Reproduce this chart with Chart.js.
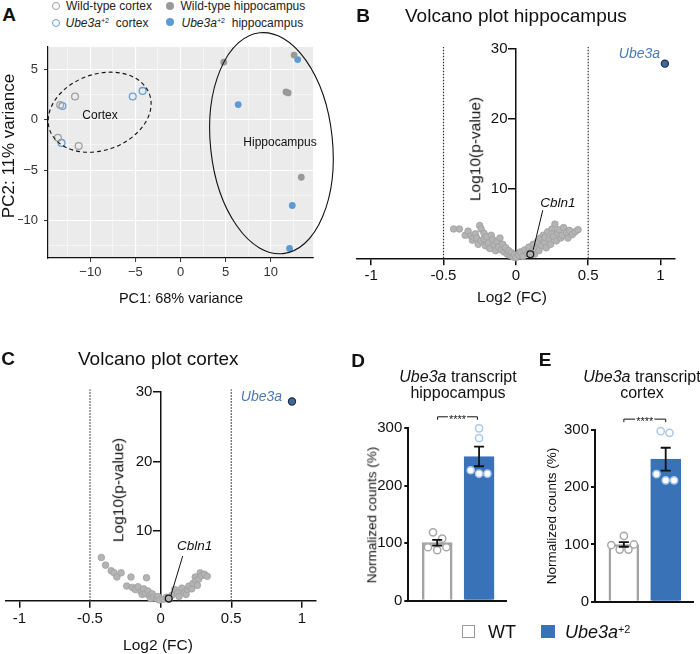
<!DOCTYPE html>
<html>
<head>
<meta charset="utf-8">
<script src="https://cdn.jsdelivr.net/npm/chart.js@4.4.1/dist/chart.umd.min.js"></script>
<style>
  body { margin: 0; background: #fff; font-family: 'Liberation Sans', Arial, sans-serif; color: #111; }
  #fig { position: relative; width: 700px; height: 654px; overflow: hidden; }
  canvas { position: absolute; }
  .t { position: absolute; white-space: nowrap; line-height: 1; }
  .c { transform: translate(-50%, -50%); }
  .r { transform: translate(-50%, -50%) rotate(-90deg); }
  .l { transform: translateY(-50%); }
  .pl { font-weight: bold; font-size: 19px; }
  .sp { font-size: 0.6em; position: relative; top: -0.5em; font-style: normal; }
  .mk { position: absolute; width: 8px; height: 8px; border-radius: 50%; box-sizing: border-box; }
</style>
</head>
<body>
<div id="fig">
  <canvas id="pca" width="340" height="290" style="left:0;top:30px"></canvas>
  <canvas id="volHip" width="360" height="320" style="left:340px;top:0"></canvas>
  <canvas id="volCtx" width="340" height="334" style="left:0;top:320px"></canvas>
  <canvas id="barHip" width="180" height="300" style="left:340px;top:320px"></canvas>
  <canvas id="barCtx" width="180" height="300" style="left:520px;top:320px"></canvas>

  <!-- panel A -->
  <div class="t pl c" style="left:9px;top:14px">A</div>
  <span class="mk" style="left:52px;top:2px;border:1.3px solid #a0a0a0"></span>
  <span class="mk" style="left:52px;top:19px;border:1.3px solid #6a9fd4"></span>
  <span class="mk" style="left:166px;top:1.5px;background:#999"></span>
  <span class="mk" style="left:166px;top:18px;background:#5b9bd5"></span>
  <div class="t l" style="left:66px;top:6px;font-size:12px;color:#222">Wild-type cortex</div>
  <div class="t l" style="left:65.5px;top:23px;font-size:12px;color:#222"><i>Ube3a</i><span class="sp">+2</span>&nbsp; cortex</div>
  <div class="t l" style="left:180.5px;top:6px;font-size:12px;color:#222">Wild-type hippocampus</div>
  <div class="t l" style="left:181.5px;top:23px;font-size:12px;color:#222"><i>Ube3a</i><span class="sp">+2</span>&nbsp; hippocampus</div>
  <div class="t c" style="left:100px;top:115px;font-size:12px">Cortex</div>
  <div class="t c" style="left:280px;top:142px;font-size:12px">Hippocampus</div>
  <div class="t c" style="left:181px;top:298px;font-size:14.5px">PC1: 68% variance</div>
  <div class="t r" style="left:8px;top:146px;font-size:17px">PC2: 11% variance</div>

  <!-- panel B -->
  <div class="t pl c" style="left:363px;top:15px">B</div>
  <div class="t l" style="left:405px;top:15px;font-size:19px">Volcano plot hippocampus</div>
  <div class="t r" style="left:475px;top:149px;font-size:15.5px">Log10(p-value)</div>
  <div class="t c" style="left:512px;top:297px;font-size:15.5px">Log2 (FC)</div>

  <!-- panel C -->
  <div class="t pl c" style="left:8px;top:358px">C</div>
  <div class="t l" style="left:78px;top:358px;font-size:19px">Volcano plot cortex</div>
  <div class="t r" style="left:118px;top:490px;font-size:15.5px">Log10(p-value)</div>
  <div class="t c" style="left:158px;top:645px;font-size:15.5px">Log2 (FC)</div>

  <!-- panel D -->
  <div class="t pl c" style="left:358px;top:360px">D</div>
  <div class="t c" style="left:458px;top:377px;font-size:16px"><i>Ube3a</i> transcript</div>
  <div class="t c" style="left:458px;top:393px;font-size:16px">hippocampus</div>
  <div class="t r" style="left:372px;top:515px;font-size:13.5px">Normalized counts (%)</div>

  <!-- panel E -->
  <div class="t pl c" style="left:545px;top:359px">E</div>
  <div class="t c" style="left:642px;top:377px;font-size:16px"><i>Ube3a</i> transcript</div>
  <div class="t c" style="left:642px;top:393px;font-size:16px">cortex</div>
  <div class="t r" style="left:552px;top:516px;font-size:13.5px">Normalized counts (%)</div>

  <!-- legend D/E -->
  <span style="position:absolute;left:462px;top:625px;width:13px;height:13px;box-sizing:border-box;border:1.5px solid #999"></span>
  <div class="t l" style="left:488px;top:632px;font-size:18px">WT</div>
  <span style="position:absolute;left:541px;top:625px;width:14px;height:13px;background:#3a72b8"></span>
  <div class="t l" style="left:565px;top:632px;font-size:18px"><i>Ube3a</i><span class="sp">+2</span></div>
</div>

<script>
// PCA coordinates
const wtCtxPC1 = [-11.7, -13.6, -11.3, -13.35];
const wtCtxPC2 = [2.3, -1.8, -2.6, 1.45];
const ubCtxPC1 = [-13.1, -13.2, -5.3, -4.2];
const ubCtxPC2 = [1.35, -2.3, 2.3, 2.85];
const wtHipPC1 = [4.8, 12.6, 11.7, 11.95, 13.4];
const wtHipPC2 = [5.7, 6.4, 2.75, 2.65, -5.7];
const ubHipPC1 = [13.0, 6.4, 12.4, 12.1];
const ubHipPC2 = [5.95, 1.5, -8.5, -12.75];

// volcano hippocampus
const hipFC = [-0.43, -0.39, -0.35, -0.33, -0.31, -0.30, -0.29, -0.28, -0.27, -0.26, -0.25, -0.24, -0.24, -0.22, -0.22, -0.21,
  -0.20, -0.19, -0.18, -0.17, -0.16, -0.15, -0.14, -0.13, -0.12, -0.11, -0.10, -0.09, -0.08, -0.07, -0.06, -0.05,
  -0.04, -0.03, -0.02, -0.01, 0.00, 0.02, 0.03, 0.05, 0.06, 0.08, 0.09, 0.11, 0.12, 0.13, 0.14, 0.15, 0.16, 0.17,
  0.18, 0.19, 0.20, 0.20, 0.21, 0.22, 0.23, 0.24, 0.25, 0.25, 0.26, 0.27, 0.28, 0.29, 0.30, 0.31, 0.32, 0.33,
  0.35, 0.36, 0.37, 0.39, 0.41, 0.43];
const hipLogP = [4.2, 4.2, 3.3, 3.9, 3.2, 2.6, 3.0, 3.5, 2.9, 2.0, 4.7, 4.2, 2.5, 3.6, 2.8, 1.8,
  3.1, 2.2, 1.4, 3.3, 2.7, 1.9, 1.1, 2.4, 1.6, 2.9, 1.2, 2.0, 0.9, 1.5, 0.6, 1.1,
  0.4, 0.8, 0.2, 0.5, 0.1, 0.4, 0.9, 0.3, 1.2, 0.7, 1.6, 1.0, 2.0, 0.6, 1.4, 2.4, 1.1, 2.9,
  1.8, 3.3, 2.3, 3.0, 1.5, 3.8, 2.7, 2.0, 4.2, 3.5, 3.1, 4.9, 2.5, 3.6, 4.1, 2.9, 3.3, 4.4,
  3.7, 2.9, 4.0, 3.4, 3.8, 4.1];

// volcano cortex
const ctxFC = [-0.42, -0.39, -0.35, -0.33, -0.31, -0.28, -0.24, -0.21, -0.20, -0.18, -0.16, -0.14, -0.13, -0.12,
  -0.11, -0.10, -0.09, -0.08, -0.07, -0.06, -0.05, -0.03, -0.02, -0.01, 0.02, 0.04, 0.06, 0.08, 0.10, 0.12,
  0.13, 0.15, 0.17, 0.18, 0.19, 0.20, 0.22, 0.23, 0.245, 0.25, 0.26, 0.27, 0.28, 0.29, 0.31, 0.33];
const ctxLogP = [6.2, 5.1, 4.3, 4.0, 3.4, 4.0, 2.1, 3.4, 1.9, 1.6, 2.0, 1.3, 0.9, 1.7,
  1.0, 3.3, 1.4, 0.7, 0.3, 1.0, 0.5, 0.3, 0.6, 0.1, 0.2, 0.5, 0.2, 0.8, 1.6, 1.1,
  0.6, 1.8, 1.2, 0.9, 1.6, 2.1, 1.7, 2.5, 3.4, 2.9, 2.2, 3.1, 4.0, 3.6, 3.8, 3.5];

const hipUbe3a = [1.03, 27.9];
const hipCbln1 = [0.10, 0.57];
const ctxUbe3a = [0.93, 28.6];
const ctxCbln1 = [0.057, 0.3];

// bar panels
const groups = ['WT', 'Ube3a+2'];
const hipMean = [101, 251];
const hipSem = [5, 17];
const hipWT = [119, 108, 93, 88, 93];
const hipUb = [300, 283, 227, 221, 221];
const ctxMean = [100, 249];
const ctxSem = [4, 20];
const ctxWT = [115, 99, 100, 91, 91];
const ctxUb = [298, 295, 223, 212, 212];
// horizontal scatter of the dots inside each bar
const hipWTJit = [-0.1, 0.12, -0.22, 0, 0.22];
const hipUbJit = [0, 0, -0.2, 0, 0.2];
const ctxWTJit = [0, -0.3, 0.24, -0.1, 0.11];
const ctxUbJit = [-0.12, 0.09, -0.22, 0, 0.2];

Chart.defaults.font.family = "'Liberation Sans', Arial, sans-serif";
Chart.defaults.color = '#111';

const pts = (xs, ys) => xs.map((v, i) => ({x: v, y: ys[i]}));

const panelBg = {
  id: 'panelBg',
  beforeDraw(chart, args, opts) {
    if (!opts.color) return;
    const {ctx, chartArea: a} = chart;
    ctx.save();
    ctx.fillStyle = opts.color;
    ctx.fillRect(a.left, a.top, a.right - a.left, a.bottom - a.top);
    ctx.restore();
  }
};

const ellipses = {
  id: 'ellipses',
  afterDatasetsDraw(chart, args, opts) {
    const {ctx, scales: {x, y}} = chart;
    (opts.items || []).forEach(e => {
      ctx.save();
      ctx.strokeStyle = '#111';
      ctx.lineWidth = 1.1;
      ctx.setLineDash(e.dash || []);
      ctx.beginPath();
      ctx.ellipse(x.getPixelForValue(e.cx), y.getPixelForValue(e.cy), e.rx, e.ry, e.rot * Math.PI / 180, 0, Math.PI * 2);
      ctx.stroke();
      ctx.restore();
    });
  }
};

const labels = {
  id: 'labels',
  afterDatasetsDraw(chart, args, opts) {
    const {ctx, scales: {x, y}} = chart;
    ctx.save();
    (opts.leaders || []).forEach(l => {
      ctx.strokeStyle = '#111';
      ctx.lineWidth = 1;
      ctx.beginPath();
      ctx.moveTo(x.getPixelForValue(l[0]), y.getPixelForValue(l[1]));
      ctx.lineTo(x.getPixelForValue(l[2]), y.getPixelForValue(l[3]));
      ctx.stroke();
    });
    (opts.items || []).forEach(t => {
      ctx.font = t.font;
      ctx.fillStyle = t.color;
      ctx.textAlign = t.align;
      ctx.textBaseline = 'middle';
      ctx.fillText(t.text, x.getPixelForValue(t.x), y.getPixelForValue(t.y));
    });
    ctx.restore();
  }
};

const errorBars = {
  id: 'errorBars',
  afterDatasetsDraw(chart, args, opts) {
    if (!opts.mean) return;
    const {ctx, scales: {x, y}} = chart;
    ctx.save();
    ctx.strokeStyle = '#111';
    ctx.lineWidth = 1.8;
    opts.mean.forEach((m, i) => {
      const px = x.getPixelForValue(i);
      const t = y.getPixelForValue(m + opts.sem[i]);
      const b = y.getPixelForValue(m - opts.sem[i]);
      ctx.beginPath();
      ctx.moveTo(px, t); ctx.lineTo(px, b);
      ctx.moveTo(px - 5, t); ctx.lineTo(px + 5, t);
      ctx.moveTo(px - 5, b); ctx.lineTo(px + 5, b);
      ctx.stroke();
    });
    // significance bracket
    const yb = y.getPixelForValue(opts.star.y);
    const x1 = x.getPixelForValue(opts.star.from);
    const x2 = x.getPixelForValue(opts.star.to);
    ctx.font = '11px "Liberation Sans", Arial, sans-serif';
    const w = ctx.measureText('****').width;
    const xm = (x1 + x2) / 2;
    ctx.lineWidth = 1;
    ctx.beginPath();
    ctx.moveTo(x1, yb + 3); ctx.lineTo(x1, yb); ctx.lineTo(xm - w / 2 - 1, yb);
    ctx.moveTo(xm + w / 2 + 1, yb); ctx.lineTo(x2, yb); ctx.lineTo(x2, yb + 3);
    ctx.stroke();
    ctx.fillStyle = '#111';
    ctx.textAlign = 'center';
    ctx.textBaseline = 'middle';
    ctx.fillText('****', xm, yb + 3);
    ctx.restore();
  }
};

// ---------- A: PCA ----------
const pcaTick = v => (Math.abs(v % 5) < 1e-6 ? String(v).replace('-', '\u2212') : '');
const majorW = c => (Math.abs(c.tick.value % 5) < 1e-6 ? 1.1 : 0.5);
const majorTick = c => (Math.abs(c.tick.value % 5) < 1e-6 ? '#333' : 'rgba(0,0,0,0)');

new Chart(document.getElementById('pca'), {
  type: 'scatter',
  data: {
    datasets: [
      {label: 'Wild-type cortex', data: pts(wtCtxPC1, wtCtxPC2), pointRadius: 3.4, borderWidth: 1.3,
        backgroundColor: 'rgba(0,0,0,0)', borderColor: '#a0a0a0'},
      {label: 'Ube3a+2 cortex', data: pts(ubCtxPC1, ubCtxPC2), pointRadius: 3.4, borderWidth: 1.3,
        backgroundColor: 'rgba(0,0,0,0)', borderColor: '#6a9fd4'},
      {label: 'Wild-type hippocampus', data: pts(wtHipPC1, wtHipPC2), pointRadius: 3.4, borderWidth: 0,
        backgroundColor: '#999'},
      {label: 'Ube3a+2 hippocampus', data: pts(ubHipPC1, ubHipPC2), pointRadius: 3.4, borderWidth: 0,
        backgroundColor: '#5b9bd5'}
    ]
  },
  options: {
    responsive: false, animation: false, events: [],
    layout: {padding: {left: 18, right: 27, top: 17, bottom: 34}},
    plugins: {
      legend: {display: false}, tooltip: {enabled: false},
      panelBg: {color: '#ebebeb'},
      ellipses: {items: [
        {cx: -8.97, cy: 0.74, rx: 53, ry: 38, rot: -20, dash: [4, 3]},
        {cx: 10.09, cy: -2.33, rx: 61, ry: 111, rot: -6}
      ]}
    },
    scales: {
      x: {type: 'linear', min: -14.7, max: 14.7,
        ticks: {stepSize: 2.5, includeBounds: false, autoSkip: false, maxRotation: 0, callback: pcaTick,
          font: {size: 13}, color: '#333', padding: 3},
        grid: {color: '#fff', lineWidth: majorW, tickColor: majorTick, tickWidth: 1, tickLength: 4},
        border: {color: '#111', width: 1.2},
        afterFit(s) { s.height = 28; }},
      y: {type: 'linear', min: -13.7, max: 7.2,
        ticks: {stepSize: 2.5, includeBounds: false, autoSkip: false, callback: pcaTick,
          font: {size: 13}, color: '#333', padding: 6},
        grid: {color: '#fff', lineWidth: majorW, tickColor: majorTick, tickWidth: 1, tickLength: 4},
        border: {color: '#111', width: 1.2},
        afterFit(s) { s.width = 30; }}
    }
  },
  plugins: [panelBg, ellipses]
});

// ---------- B / C: volcano plots ----------
function volcano(id, fc, logp, hit, ref, pad, items, leader) {
  const dotted = xv => ({type: 'line', data: [{x: xv, y: 0}, {x: xv, y: 30.3}], borderColor: '#333',
    borderWidth: 1.2, borderDash: [1.5, 1.5], pointRadius: 0, clip: false, order: 3});
  new Chart(document.getElementById(id), {
    type: 'scatter',
    data: {
      datasets: [
        dotted(-0.5), dotted(0.5),
        {data: pts(fc, logp), pointRadius: 3.3, backgroundColor: '#b4b4b4', borderColor: '#9e9e9e',
          borderWidth: 0.8, clip: false, order: 2},
        {data: [{x: ref[0], y: ref[1]}], pointRadius: 3.4, backgroundColor: '#b4b4b4', borderColor: '#1a1a1a',
          borderWidth: 1.3, clip: false, order: 1},
        {data: [{x: hit[0], y: hit[1]}], pointRadius: 3.6, backgroundColor: '#44669a', borderColor: '#1d2f4a',
          borderWidth: 1.2, clip: false, order: 1}
      ]
    },
    options: {
      responsive: false, animation: false, events: [],
      layout: {padding: pad},
      plugins: {
        legend: {display: false}, tooltip: {enabled: false},
        labels: {items: items, leaders: [leader]}
      },
      scales: {
        x: {type: 'linear', min: -1.1, max: 1.1,
          ticks: {stepSize: 0.5, includeBounds: false, font: {size: 15}, color: '#111', padding: 2, maxRotation: 0,
            callback: v => String(Math.round(v * 10) / 10)},
          grid: {drawOnChartArea: false, color: '#111', lineWidth: 1.5, tickLength: 7},
          border: {color: '#111', width: 1.5},
          afterFit(s) { s.height = 30; }},
        y: {type: 'linear', position: {x: 0}, min: 0, max: 30,
          // labels of an axis placed at x = 0 sit right against the line, so pad them out
          ticks: {stepSize: 10, font: {size: 15}, color: '#111', callback: v => (v === 0 ? '' : v + '  ')},
          grid: {drawOnChartArea: false, color: '#111', lineWidth: 1.5, tickLength: 7},
          border: {color: '#111', width: 1.5}}
      }
    },
    plugins: [labels]
  });
}

const geneFont = 'italic 14px "Liberation Sans", Arial, sans-serif';
const refFont = 'italic 13.5px "Liberation Sans", Arial, sans-serif';

volcano('volHip', hipFC, hipLogP, hipUbe3a, hipCbln1,
  {left: 16.7, right: 25, top: 49, bottom: 31.7},
  [{text: 'Ube3a', x: 0.997, y: 29.3, align: 'right', font: geneFont, color: '#4b79b2'},
   {text: 'Cbln1', x: 0.29, y: 7.9, align: 'center', font: refFont, color: '#111'}],
  [0.186, 6.9, 0.12, 1.2]);

volcano('volCtx', ctxFC, ctxLogP, ctxUbe3a, ctxCbln1,
  {left: 0, right: 24, top: 71.7, bottom: 23.3},
  [{text: 'Ube3a', x: 0.86, y: 29.2, align: 'right', font: geneFont, color: '#4b79b2'},
   {text: 'Cbln1', x: 0.24, y: 7.75, align: 'center', font: refFont, color: '#111'}],
  [0.156, 6.4, 0.073, 0.8]);

// ---------- D / E: bar charts ----------
function barPanel(id, mean, sem, wt, wtJit, ub, ubJit, pad, star) {
  new Chart(document.getElementById(id), {
    type: 'bar',
    data: {
      datasets: [
        {type: 'bar', label: 'mean', data: groups.map((g, i) => ({x: i, y: mean[i]})),
          backgroundColor: ['#ffffff', '#3a72b8'], borderColor: ['#a3a3a3', '#3a72b8'],
          borderWidth: 2.5, barThickness: 30, order: 3},
        {type: 'scatter', label: groups[0], data: pts(wtJit, wt), pointRadius: 3.6, backgroundColor: '#fff',
          borderColor: '#a8a8a8', borderWidth: 1.5, clip: false, order: 2},
        {type: 'scatter', label: groups[1], data: pts(ubJit.map(j => 1 + j), ub), pointRadius: 3.6,
          backgroundColor: '#fff', borderColor: '#a9c8ea', borderWidth: 1.5, clip: false, order: 2}
      ]
    },
    options: {
      responsive: false, animation: false, events: [],
      layout: {padding: pad},
      plugins: {
        legend: {display: false}, tooltip: {enabled: false},
        errorBars: {mean: mean, sem: sem, star: star}
      },
      scales: {
        x: {type: 'linear', min: -0.69, max: 1.66, offset: false,
          ticks: {display: false}, grid: {display: false, offset: false},
          border: {color: '#111', width: 2},
          afterFit(s) { s.height = 0; }},
        y: {type: 'linear', min: 0, max: 300,
          ticks: {stepSize: 100, font: {size: 15}, color: '#111', padding: 2},
          grid: {drawOnChartArea: false, color: '#111', lineWidth: 2, tickLength: 4},
          border: {color: '#111', width: 2},
          afterFit(s) { s.width = 40; }}
      }
    },
    plugins: [errorBars]
  });
}

barPanel('barHip', hipMean, hipSem, hipWT, hipWTJit, hipUb, hipUbJit,
  {left: 28.3, right: 13.3, top: 108.3, bottom: 19.3}, {y: 320, from: 0.01, to: 0.96});
barPanel('barCtx', ctxMean, ctxSem, ctxWT, ctxWTJit, ctxUb, ctxUbJit,
  {left: 35, right: 6.7, top: 110, bottom: 18.3}, {y: 319, from: 0, to: 1});
</script>
</body>
</html>
